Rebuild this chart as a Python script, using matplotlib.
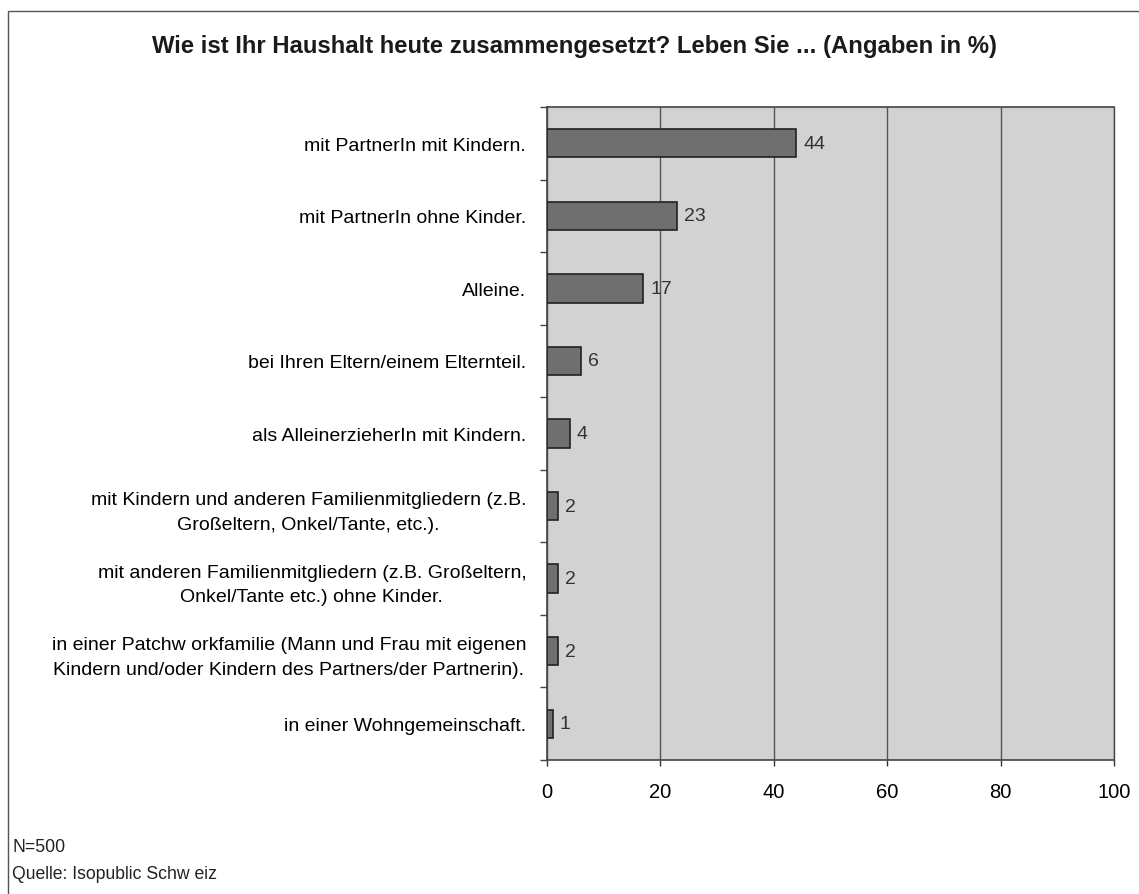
import matplotlib.pyplot as plt
from matplotlib.patches import Rectangle
import numpy as np

plt.rcParams['font.family'] = ['Liberation Sans', 'DejaVu Sans']

# data, top to bottom as in the chart
categories = [
    'mit PartnerIn mit Kindern.',
    'mit PartnerIn ohne Kinder.',
    'Alleine.',
    'bei Ihren Eltern/einem Elternteil.',
    'als AlleinerzieherIn mit Kindern.',
    'mit Kindern und anderen Familienmitgliedern (z.B.\nGroßeltern, Onkel/Tante, etc.).',
    'mit anderen Familienmitgliedern (z.B. Großeltern,\nOnkel/Tante etc.) ohne Kinder.',
    'in einer Patchw orkfamilie (Mann und Frau mit eigenen\nKindern und/oder Kindern des Partners/der Partnerin).',
    'in einer Wohngemeinschaft.',
]
values = [44, 23, 17, 6, 4, 2, 2, 2, 1]
xticks = [0, 20, 40, 60, 80, 100]

fig = plt.figure(figsize=(11.39, 8.95), dpi=100)
ax = fig.add_axes([547 / 1139, 1 - 761 / 895, (1114 - 547) / 1139, (761 - 108) / 895])

# outer frame of the whole chart
fig.patches.append(Rectangle((8 / 1139, -0.01), 1.0, 1 - 12 / 895 + 0.01,
                             transform=fig.transFigure, fill=False,
                             edgecolor='#555555', linewidth=1.0))

ax.set_facecolor('#d2d2d2')
y = np.arange(len(categories))
ax.barh(y, values, height=0.39, color='#6f6f6f', edgecolor='#222222', linewidth=1.2, zorder=3)

for yi, v in zip(y, values):
    ax.text(v + 1.2, yi, str(v), va='center', ha='left', fontsize=14, color='#333333', zorder=4)

ax.set_xlim(0, 100)
ax.set_ylim(len(categories) - 0.5, -0.5)
ax.set_xticks(xticks)
ax.set_xticklabels([str(t) for t in xticks], fontsize=14.5)
ax.tick_params(axis='x', length=4, width=1, pad=12, color='#333333')
ax.xaxis.grid(True, color='#555555', linewidth=1.0, zorder=1)

# category labels centred on bars, small ticks between categories
ax.set_yticks(y)
ax.set_yticklabels(categories, fontsize=14, multialignment='center', linespacing=1.6)
ax.tick_params(axis='y', which='major', length=0, pad=15)
ax.set_yticks(np.arange(-0.5, len(categories), 1.0), minor=True)
ax.tick_params(axis='y', which='minor', length=5, width=1, color='#444444')

for side in ['top', 'right', 'bottom', 'left']:
    ax.spines[side].set_color('#444444')
    ax.spines[side].set_linewidth(1.2)
ax.spines['right'].set_linewidth(1.0)

fig.text(575 / 1139, 1 - 47 / 895, 'Wie ist Ihr Haushalt heute zusammengesetzt? Leben Sie ... (Angaben in %)',
         ha='center', va='center', fontsize=17.2, fontweight='bold', color='#1a1a1a')

fig.text(12 / 1139, 1 - 848 / 895, 'N=500', ha='left', va='center', fontsize=12.7, color='#222222')
fig.text(12 / 1139, 1 - 875 / 895, 'Quelle: Isopublic Schw eiz', ha='left', va='center', fontsize=12.7, color='#222222')

fig.savefig('out.png', dpi=100)
